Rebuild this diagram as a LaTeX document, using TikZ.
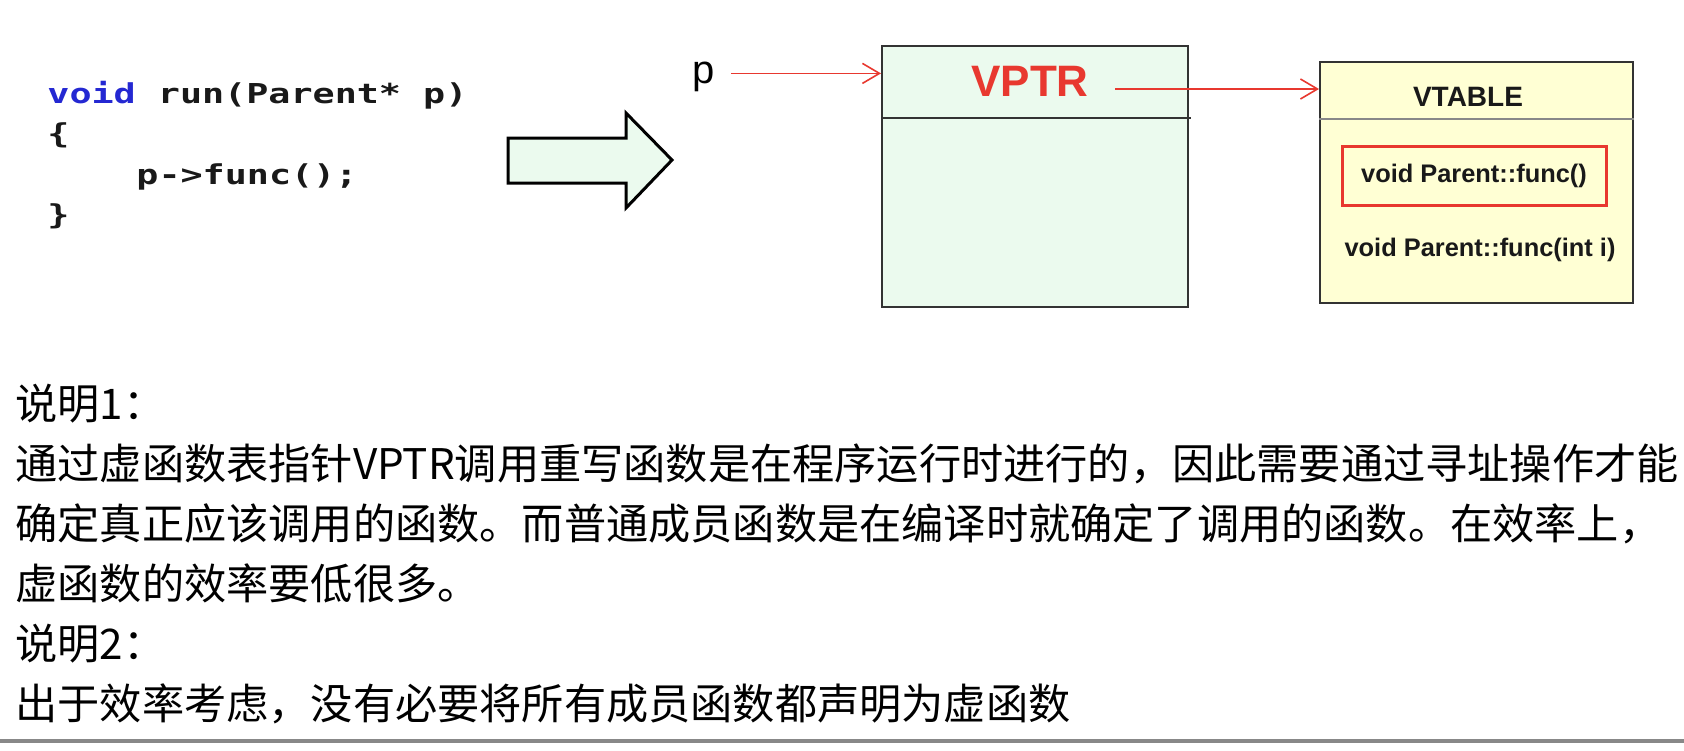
\documentclass[tikz,border=0pt]{standalone}
\usepackage{fontspec}
\setmainfont{Liberation Sans}
\newfontfamily\cjkfont{Noto Sans CJK SC}
\newfontfamily\codefont[FakeStretch=1.34]{DejaVu Sans Mono}
\usepackage{tikz}
\usetikzlibrary{positioning}
\usetikzlibrary{arrows.meta}
\usepackage{xcolor}
\definecolor{objgreen}{RGB}{235,250,238}
\definecolor{tabyellow}{RGB}{255,255,212}
\definecolor{ptrred}{RGB}{232,56,47}
\definecolor{kwblue}{RGB}{36,40,210}
\definecolor{edgegray}{RGB}{51,51,51}
\definecolor{rulegray}{RGB}{136,136,136}

\begin{document}
\begin{tikzpicture}[x=0.5pt, y=-0.5pt, every node/.style={inner sep=0pt},
    cls/.style={draw=edgegray, line width=1pt, rectangle},
    code/.style={anchor=base west, font=\codefont\bfseries\fontsize{13.7}{16}\selectfont, text=black!90},
    fn/.style={font=\bfseries\fontsize{12.7}{15}\selectfont, text=black!90},
    note/.style={anchor=base west, font=\cjkfont\fontsize{21.1}{30}\selectfont},
    ptr/.style={draw=ptrred, line width=0.8pt, -{Straight Barb[length=8.5pt, width=10pt]}}]
            \useasboundingbox (0,0) rectangle (1684,750);

            % source
            \node[code] (l1) at (47,103) {\textcolor{kwblue}{void} run(Parent* p)};
            \node[code] (l2) at (47,143.5) {\{};
            \node[code] (l3) at (136,184) {p->func();};
            \node[code] (l4) at (47,224.5) {\}};

            \draw[line width=1.5pt, fill=objgreen, line join=miter] (508,138) -- (626,138) -- (626,113) -- (672,160) -- (626,208) -- (626,183) -- (508,183) -- cycle;

            % object
            \node[anchor=base west, font=\fontsize{20}{24}\selectfont] (plabel) at (692,83) {p};
            \node[cls, fill=objgreen, minimum width=153pt, minimum height=130.5pt] (obj) at (1035,176.5) {};
            \draw[edgegray, line width=1pt] (obj.west |- 0,118) -- ([xshift=1pt]obj.east |- 0,118);
            \node[font=\bfseries\fontsize{22}{26}\selectfont, text=ptrred] (vptr) at (1030,81) {VPTR};

            % vtable
            \node[cls, fill=tabyellow, minimum width=156.5pt, minimum height=120.5pt] (vtab) at (1476.5,182.5) {};
            \draw[rulegray, line width=0.8pt] (vtab.west |- 0,119) -- (vtab.east |- 0,119);
            \node[font=\bfseries\fontsize{14}{17}\selectfont, text=black!90] (vtitle) at (1468,97) {VTABLE};
            \node[fn, draw=ptrred, line width=1.5pt, minimum width=132pt, minimum height=29.5pt] (slot1) at (1474,175.5) {void Parent::func()};
            \node[fn] (slot2) at (1480,250) {void Parent::func(int i)};

            \coordinate (vstart) at ([xshift=13pt, yshift=-4pt]vptr.east);
            \draw[ptr] ([xshift=8pt, yshift=1.5pt]plabel.east) -- ([yshift=1.5pt]plabel.east -| obj.west);
            \draw[ptr] (vstart) -- (vstart -| vtab.west);

            % notes
            \node[note] (n1) at (15,419) {说明1：};
            \node[note] (n2) at (15,479) {通过虚函数表指针VPTR调用重写函数是在程序运行时进行的，因此需要通过寻址操作才能};
            \node[note] (n3) at (15,539) {确定真正应该调用的函数。而普通成员函数是在编译时就确定了调用的函数。在效率上，};
            \node[note] (n4) at (15,599) {虚函数的效率要低很多。};
            \node[note] (n5) at (15,659) {说明2：};
            \node[note] (n6) at (15,719) {出于效率考虑，没有必要将所有成员函数都声明为虚函数};

            \draw[rulegray, line width=2pt] (0,741) -- (1684,741);
        \end{tikzpicture}
\end{document}
